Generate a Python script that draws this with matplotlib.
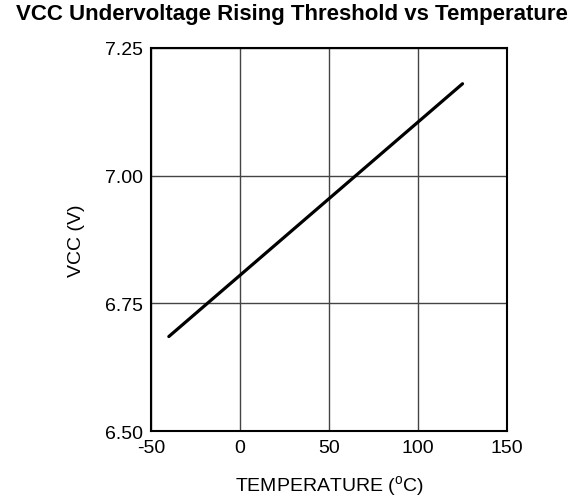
import matplotlib
matplotlib.use("Agg")
import matplotlib.pyplot as plt

# data
temperature_c = [-40, -20, 0, 25, 50, 75, 100, 125]
vcc_v = [6.685, 6.745, 6.805, 6.88, 6.955, 7.03, 7.105, 7.18]

x_ticks = [-50, 0, 50, 100, 150]
y_ticks = [6.50, 6.75, 7.00, 7.25]
y_tick_labels = ["6.50", "6.75", "7.00", "7.25"]

plt.rcParams["font.family"] = ["Liberation Sans", "DejaVu Sans"]
plt.rcParams["axes.unicode_minus"] = False

fig = plt.figure(figsize=(5.84, 5.02), dpi=100)
ax = fig.add_axes([0.2586, 0.1394, 0.6096, 0.763])

ax.plot(temperature_c, vcc_v, color="black", linewidth=2.3, solid_capstyle="round")

ax.set_xlim(-50, 150)
ax.set_ylim(6.50, 7.25)
ax.set_xticks(x_ticks)
ax.set_yticks(y_ticks)
ax.set_yticklabels(y_tick_labels)
ax.tick_params(length=0, labelsize=14, pad=6)
ax.grid(True, color="#444444", linewidth=1.0)
ax.set_axisbelow(True)
for sp in ax.spines.values():
    sp.set_linewidth(1.5)
    sp.set_color("black")

ax.set_xlabel(r"TEMPERATURE ($^\mathregular{o}$C)", fontsize=14, labelpad=12)
ax.set_ylabel("VCC (V)", fontsize=14, labelpad=14)
fig.text(0.5, 0.972, "VCC Undervoltage Rising Threshold vs Temperature",
         ha="center", va="center", fontsize=16, fontweight="bold")

fig.savefig("out.png", dpi=100)
